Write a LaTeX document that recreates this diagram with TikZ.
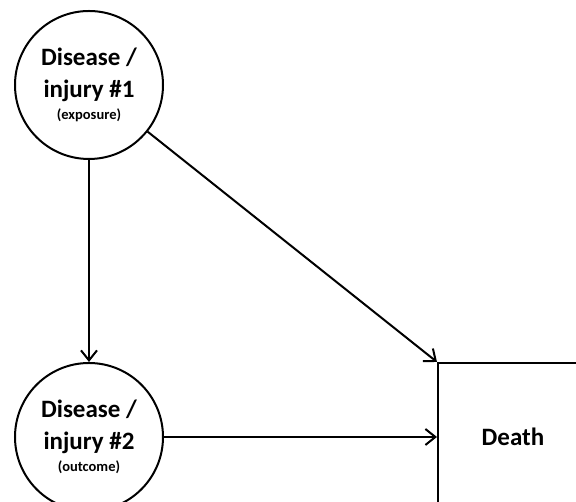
\documentclass[tikz,border=0pt]{standalone}
\usepackage{fontspec}
\setmainfont{Carlito}
\usetikzlibrary{arrows.meta}

\begin{document}
\begin{tikzpicture}[x=1pt,y=1pt]
    \clip (0,0) rectangle (576,502);
    \useasboundingbox (0,0) rectangle (576,502);
    \tikzset{
      disease/.style={circle, draw, line width=2pt, minimum size=148pt, inner sep=0pt, align=center, font=\bfseries\fontsize{25}{32}\selectfont},
      outcomebox/.style={rectangle, draw, line width=2pt, minimum width=150pt, minimum height=148pt, font=\bfseries\fontsize{25}{32}\selectfont},
      arr/.style={line width=2pt, -{Straight Barb[length=10pt,width=16pt]}}
    }
    \node[disease] (d1) at (89,417) {Disease /\\injury \#1\\[-10pt]{\fontsize{14.5}{17}\selectfont (exposure)}};
    \node[disease] (d2) at (89,65) {Disease /\\injury \#2\\[-10pt]{\fontsize{14.5}{17}\selectfont (outcome)}};
    \node[outcomebox] (death) at (513,65) {Death};
    \draw[arr] (d1) -- (d2);
    \draw[arr] (d1) -- (death.north west);
    \draw[arr] (d2) -- (death);
\end{tikzpicture}
\end{document}
